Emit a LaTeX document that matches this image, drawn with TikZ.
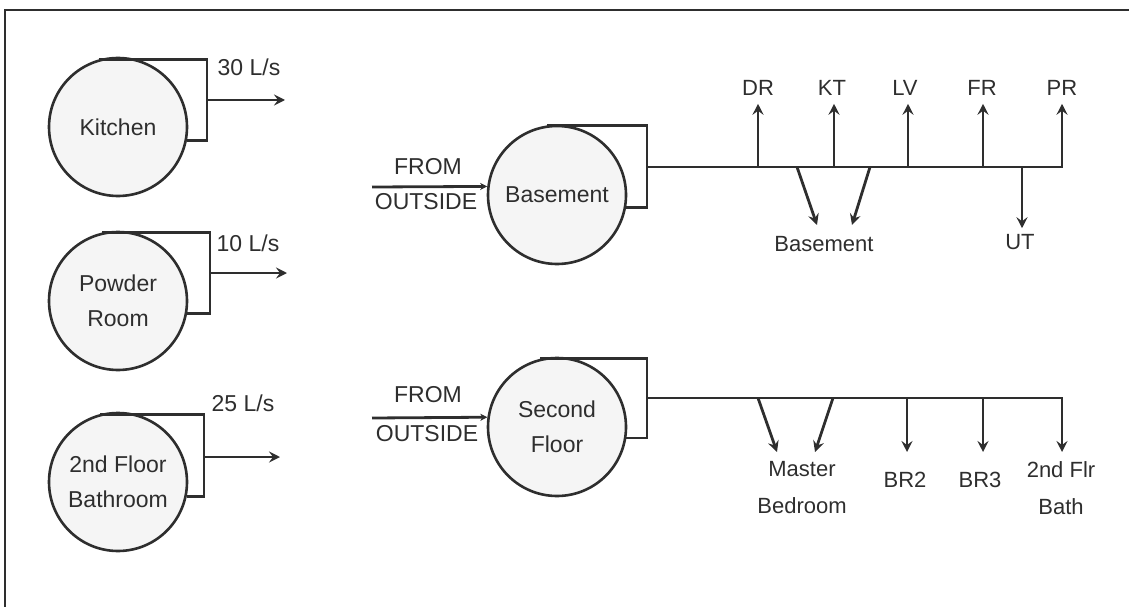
\documentclass[tikz,border=0pt]{standalone}
\usepackage{fontspec}
\setmainfont{Liberation Sans}
\usetikzlibrary{arrows.meta}
\definecolor{ink}{HTML}{2e2e2e}
\begin{document}
\begin{tikzpicture}[x=1pt,y=-1pt,
  font=\fontsize{23}{35}\selectfont,
  room/.style={circle, draw=ink, line width=2.6pt, fill=gray!8, minimum size=138pt, inner sep=0pt, align=center, text=ink},
  duct/.style={draw=ink, line width=2.8pt},
  flow/.style={duct, -{Stealth[length=11pt,width=11pt,inset=4pt]}},
  inflow/.style={duct, -{Stealth[length=7pt,width=7pt,inset=2pt]}},
  lbl/.style={inner sep=0pt, text=ink, text height=0.716em, text depth=0pt},
  sml/.style={lbl, font=\fontsize{22}{37}\selectfont},
  twol/.style={inner sep=0pt, text=ink, align=center, font=\fontsize{22}{37}\selectfont}]
\useasboundingbox (0,0) rectangle (1129,607);
\draw[duct] (5,607) -- (5,10) -- (1129,10);

% left column: exhaust rooms
\node[room] (kit) at (118,127) {Kitchen};
\coordinate (kitc) at (207,100);
\coordinate (kito) at (285,100);
\draw[duct] (kit.106) -| (kitc) |- (kit.-11);
\draw[flow] (kitc) -- (kito);
\node[lbl] (kitl) at (249,72) {30 L/s};

\node[room] (pow) at (118,301) {Powder\\Room};
\coordinate (powc) at (210,273);
\coordinate (powo) at (287,273);
\draw[duct] (pow.103) -| (powc) |- (pow.-10);
\draw[flow] (powc) -- (powo);
\node[lbl] (powl) at (248,248) {10 L/s};

\node[room] (bat) at (118,482) {2nd Floor\\Bathroom};
\coordinate (batc) at (204,457);
\coordinate (bato) at (280,457);
\draw[duct] (bat.105) -| (batc) |- (bat.-12);
\draw[flow] (batc) -- (bato);
\node[lbl] (batl) at (243,408) {25 L/s};

% Basement supply
\node[room] (bas) at (557,195) {Basement};
\coordinate (basin) at (372,187);
\draw[inflow] (basin) -- (bas.173);
\node[lbl] (from1) at (428,171) {FROM};
\node[lbl] (out1) at (426,206) {OUTSIDE};
\coordinate (basc) at (647,167);
\draw[duct] (bas.98) -| (basc) |- (bas.-10);
\coordinate (bdr) at (758,167);
\coordinate (bkt) at (834,167);
\coordinate (blv) at (908,167);
\coordinate (bfr) at (983,167);
\coordinate (bb1) at (797,167);
\coordinate (bb2) at (870,167);
\coordinate (but) at (1022,167);
\coordinate (bend) at (1062,167);
\node[sml] (dr) at (758,92) {DR};
\node[sml] (kt) at (832,92) {KT};
\node[sml] (lv) at (905,92) {LV};
\node[sml] (fr) at (982,92) {FR};
\node[sml] (pr) at (1062,92) {PR};
\node[sml] (bsl) at (824,248) {Basement};
\node[sml] (ut) at (1020,246) {UT};
\draw[flow] (basc) -- (bend) -- ([yshift=-8pt]bend |- pr.south);
\draw[flow] (bdr) -- ([yshift=-8pt]bdr |- dr.south);
\draw[flow] (bkt) -- ([yshift=-8pt]bkt |- kt.south);
\draw[flow] (blv) -- ([yshift=-8pt]blv |- lv.south);
\draw[flow] (bfr) -- ([yshift=-8pt]bfr |- fr.south);
\draw[flow] (but) -- ([yshift=14pt]but |- ut.north);
\draw[flow] (bb1) -- (817,225);
\draw[flow] (bb2) -- (852,225);

% Second floor supply
\node[room] (sec) at (557,427) {Second\\Floor};
\coordinate (secin) at (372,418);
\draw[inflow] (secin) -- (sec.172);
\node[lbl] (from2) at (428,399) {FROM};
\node[lbl] (out2) at (427,438) {OUTSIDE};
\coordinate (secc) at (647,398);
\draw[duct] (sec.104) -| (secc) |- (sec.-9);
\coordinate (sm1) at (758,398);
\coordinate (sm2) at (833,398);
\coordinate (sbr2) at (907,398);
\coordinate (sbr3) at (983,398);
\coordinate (send) at (1062,398);
\node[twol] (mb) at (802,488) {Master\\Bedroom};
\node[sml] (br2) at (905,484) {BR2};
\node[sml] (br3) at (980,484) {BR3};
\node[twol] (bath) at (1061,488) {2nd Flr\\Bath};
\draw[flow] (secc) -- (send) -- (1062,452);
\draw[flow] (sbr2) -- (907,452);
\draw[flow] (sbr3) -- (983,452);
\draw[flow] (sm1) -- (777,452);
\draw[flow] (sm2) -- (815,452);
\end{tikzpicture}
\end{document}
